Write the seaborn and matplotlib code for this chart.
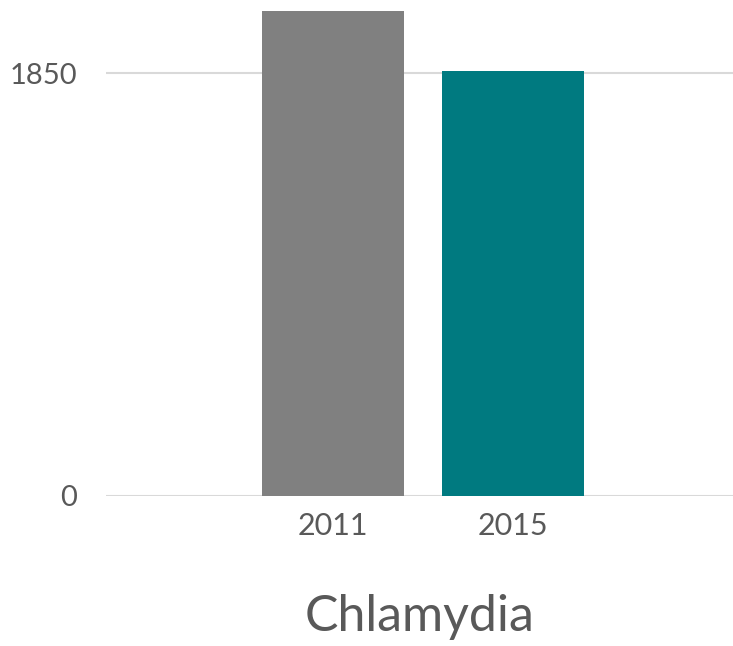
import matplotlib
matplotlib.use("Agg")
import matplotlib.pyplot as plt
import seaborn as sns
import pandas as pd

years = ["2011", "2015"]
values = [2123, 1860]
colors = ["#808080", "#007A80"]
yticks = [0, 1850]
title = "Chlamydia"

sns.set_theme(style="white")
plt.rcParams['font.family'] = ['Lato', 'DejaVu Sans']

W, H = 733, 646
fig = plt.figure(figsize=(W/100, H/100), dpi=100)
ax = fig.add_axes([106/W, 1 - 495.7/H, (733-106)/W, 495.7/H])

df = pd.DataFrame({"year": years, "value": values})
sns.barplot(data=df, x="year", y="value", hue="year", palette=colors,
            width=0.79, legend=False, ax=ax, saturation=1, linewidth=0)

ax.set_xlim(-1.26, 2.22)
ax.set_ylim(0, 2171)
ax.set_yticks(yticks)
ax.set_yticklabels([str(t) for t in yticks])
ax.yaxis.grid(True, color="#d9d9d9", linewidth=1.5)
ax.set_axisbelow(True)
for s in ax.spines.values():
    s.set_visible(False)
ax.tick_params(axis="y", length=0, pad=21, labelsize=21, labelcolor="#595959")
ax.tick_params(axis="x", length=0, pad=12, labelsize=22, labelcolor="#595959")
ax.set_xlabel("")
ax.set_ylabel("")

fig.text(419.5/W, 1 - 617/H, title, ha="center", va="center",
         fontsize=36, color="#595959")

fig.savefig("out.png", dpi=100)
